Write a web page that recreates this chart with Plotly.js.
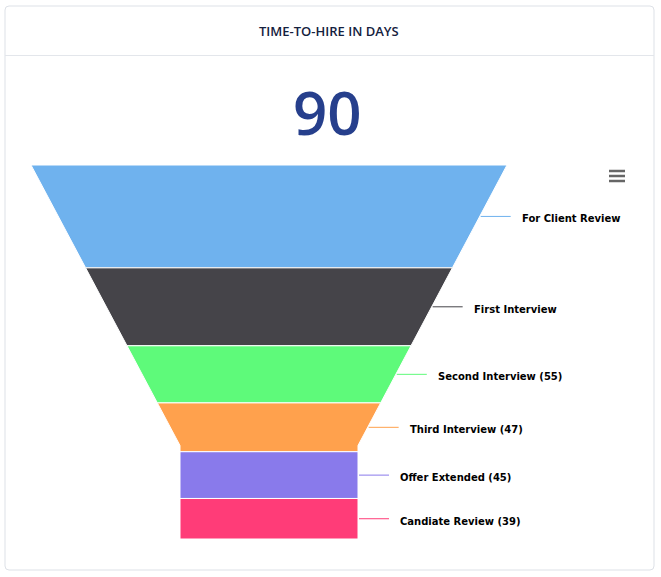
<!DOCTYPE html>
<html>
<head>
<meta charset="utf-8">
<script src="https://cdn.plot.ly/plotly-3.0.1.min.js"></script>
<style>
  html, body { margin: 0; padding: 0; background: #ffffff; }
  #chart { width: 661px; height: 577px; }
</style>
</head>
<body>
<div id="chart"></div>
<script>
// ---- data ----
const stages = ['For Client Review', 'First Interview', 'Second Interview', 'Third Interview', 'Offer Extended', 'Candiate Review'];
const values = [99, 75, 55, 47, 45, 39];
const labels = ['For Client Review', 'First Interview', 'Second Interview (55)', 'Third Interview (47)', 'Offer Extended (45)', 'Candiate Review (39)'];
const colors = ['#6fb2ee', '#454449', '#5efa7a', '#ffa14d', '#897aeb', '#ff3c78'];
const cardTitle = 'TIME-TO-HIRE IN DAYS';
const kpiValue = '90';

// ---- funnel geometry options (like Highcharts funnel: width, neckWidth, neckHeight, height) ----
const cx = 269, topY = 165, fHeight = 374, topWidth = 476, neckWidth = 178, neckHeightFrac = 0.25;
const neckY = topY + fHeight * (1 - neckHeightFrac);
const topHalf = topWidth / 2, neckHalf = neckWidth / 2;
function hw(y) {
  if (y <= neckY) return topHalf - (topHalf - neckHalf) * (y - topY) / (neckY - topY);
  return neckHalf;
}

const total = values.reduce((a, b) => a + b, 0);
const traces = [];
const annotations = [];
let y0 = topY;
values.forEach((v, i) => {
  const y1 = y0 + v / total * fHeight;
  const xs = [], ys = [];
  xs.push(cx - hw(y0)); ys.push(y0);
  xs.push(cx + hw(y0)); ys.push(y0);
  if (y0 < neckY && y1 > neckY) { xs.push(cx + neckHalf); ys.push(neckY); }
  xs.push(cx + hw(y1)); ys.push(y1);
  xs.push(cx - hw(y1)); ys.push(y1);
  if (y0 < neckY && y1 > neckY) { xs.push(cx - neckHalf); ys.push(neckY); }
  xs.push(cx - hw(y0)); ys.push(y0);
  traces.push({
    type: 'scatter', mode: 'lines', x: xs, y: ys, fill: 'toself',
    fillcolor: colors[i], line: { color: '#ffffff', width: 1 },
    name: stages[i], hoverinfo: 'name', showlegend: false
  });
  const yc = (y0 + y1) / 2;
  const ex = cx + hw(yc);
  traces.push({
    type: 'scatter', mode: 'lines', x: [ex + 1, ex + 31], y: [yc, yc],
    line: { color: colors[i], width: 1 }, hoverinfo: 'skip', showlegend: false
  });
  annotations.push({
    x: ex + 40, y: yc + 2.5, xref: 'x', yref: 'y', text: labels[i], showarrow: false,
    xanchor: 'left', yanchor: 'middle',
    font: { family: 'DejaVu Sans, sans-serif', size: 10, weight: 'bold', color: '#000000' }
  });
  y0 = y1;
});

annotations.push({
  x: 329, y: 30.5, xref: 'x', yref: 'y', text: cardTitle, showarrow: false,
  xanchor: 'center', yanchor: 'middle',
  font: { family: 'Open Sans, sans-serif', size: 13, weight: 600, color: '#15213e' }
});
annotations.push({
  x: 327, y: 112, xref: 'x', yref: 'y', text: kpiValue, showarrow: false,
  xanchor: 'center', yanchor: 'middle',
  font: { family: 'Open Sans, sans-serif', size: 60, weight: 600, color: '#263f8c' }
});

// card frame
const L = 5, R = 654, T = 6, B = 570, r = 4;
const cardPath = `M ${L + r} ${T} L ${R - r} ${T} Q ${R} ${T} ${R} ${T + r} L ${R} ${B - r} Q ${R} ${B} ${R - r} ${B} L ${L + r} ${B} Q ${L} ${B} ${L} ${B - r} L ${L} ${T + r} Q ${L} ${T} ${L + r} ${T} Z`;
const shapes = [
  { type: 'path', path: cardPath, xref: 'x', yref: 'y', line: { color: '#dde1e7', width: 1 }, fillcolor: 'rgba(0,0,0,0)', layer: 'below' },
  { type: 'line', x0: L, x1: R, y0: 55.5, y1: 55.5, xref: 'x', yref: 'y', line: { color: '#e3e6eb', width: 1 } },
  // context menu (hamburger) icon
  { type: 'line', x0: 609, x1: 625, y0: 171, y1: 171, xref: 'x', yref: 'y', line: { color: '#666666', width: 2.5 } },
  { type: 'line', x0: 609, x1: 625, y0: 176, y1: 176, xref: 'x', yref: 'y', line: { color: '#666666', width: 2.5 } },
  { type: 'line', x0: 609, x1: 625, y0: 181, y1: 181, xref: 'x', yref: 'y', line: { color: '#666666', width: 2.5 } }
];

const layout = {
  width: 661, height: 577,
  margin: { l: 0, r: 0, t: 0, b: 0 },
  paper_bgcolor: '#ffffff', plot_bgcolor: '#ffffff',
  xaxis: { range: [0, 661], visible: false, fixedrange: true },
  yaxis: { range: [577, 0], visible: false, fixedrange: true },
  showlegend: false,
  annotations: annotations,
  shapes: shapes
};

Plotly.newPlot('chart', traces, layout, { displayModeBar: false, staticPlot: true });
</script>
</body>
</html>
